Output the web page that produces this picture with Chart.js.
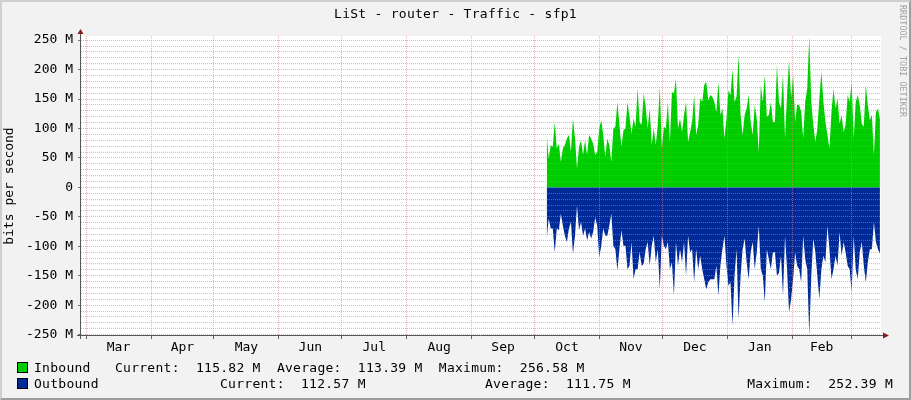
<!DOCTYPE html>
<html>
<head>
<meta charset="utf-8">
<script src="https://cdn.jsdelivr.net/npm/chart.js@4.4.1/dist/chart.umd.min.js"></script>
<style>
  html, body { margin: 0; padding: 0; background: #F2F2F2; }
  #wrap { position: relative; width: 911px; height: 400px; background: #F2F2F2; overflow: hidden;
          font-family: "DejaVu Sans Mono", monospace; font-size: 13px; color: #000; }
  #chart { position: absolute; left: 0; top: 0; }
  #frame { position: absolute; left: 0; top: 0; width: 911px; height: 400px; box-sizing: border-box;
           border-top: 2px solid #CFCFCF; border-left: 2px solid #CFCFCF;
           border-bottom: 2px solid #9E9E9E; border-right: 2px solid #9E9E9E; pointer-events: none; }
  .txt { position: absolute; white-space: pre; letter-spacing: 0.27px; line-height: 16px; }
  #title { left: 0; width: 911px; top: 6px; text-align: center; }
  #mark { position: absolute; left: 898px; top: 5px; writing-mode: vertical-rl; font-size: 8.3px;
          color: #A0A0A0; white-space: pre; letter-spacing: 0.1px; }
  .box { position: absolute; width: 9px; height: 9px; border: 1px solid #000; }
</style>
</head>
<body>
<div id="wrap">
  <canvas id="chart" width="911" height="400"></canvas>
  <div id="title" class="txt">LiSt - router - Traffic - sfp1</div>
  <div id="mark">RRDTOOL / TOBI OETIKER</div>

  <div class="box" style="left:17px; top:362px; background:#00CC00;"></div>
  <div class="txt" style="left:34px; top:360px;">Inbound   Current:  115.82 M  Average:  113.39 M  Maximum:  256.58 M</div>

  <div class="box" style="left:17px; top:378px; background:#002A97;"></div>
  <div class="txt" style="left:34px; top:376px;">Outbound</div>
  <div class="txt" style="left:220px; top:376px;">Current:  112.57 M</div>
  <div class="txt" style="left:485px; top:376px;">Average:  111.75 M</div>
  <div class="txt" style="right:18px; top:376px;">Maximum:  252.39 M</div>
  <div id="frame"></div>
</div>
<script>
// months on the time axis, day offsets from 1 March
const monthLabels = ['Mar', 'Apr', 'May', 'Jun', 'Jul', 'Aug', 'Sep', 'Oct', 'Nov', 'Dec', 'Jan', 'Feb'];
const monthStartDays = [0, 31, 61, 92, 122, 153, 184, 214, 245, 275, 306, 337, 365];

// visible time window (days from 1 March)
const timeMin = -2.4;
const timeMax = 379.3;

// samples run from early October to mid March
const sampleFirstDay = 219.8;
const sampleLastDay = 378.8;

// y axis (M bits/s)
const yMin = -252.4;
const yMax = 257;
const yTickValues = [-250, -200, -150, -100, -50, 0, 50, 100, 150, 200, 250];
const yTickLabels = ['-250 M', '-200 M', '-150 M', '-100 M', '-50 M', '0', '50 M', '100 M', '150 M', '200 M', '250 M'];

// Inbound, M bits/s
const inboundValues = [
  89, 49, 72, 69, 111, 66, 74, 43, 66, 72, 83, 89, 60, 117, 83, 32, 69, 80, 55, 80,
  55, 89, 83, 74, 55, 60, 100, 114, 89, 52, 83, 72, 43, 100, 103, 145, 106, 69, 97, 100,
  145,
  120, 91, 117, 103, 168, 111, 106, 160, 137, 100, 134, 72, 100, 72, 106, 171, 66, 103, 100, 145,
  77, 162, 160, 185, 100, 117, 94, 123, 145, 77, 94, 111, 157, 89, 106, 151, 145, 174, 179, 148,
  157, 154,
  145, 128, 179, 123, 134, 83, 117, 165, 157, 200, 145, 154, 225, 123, 89, 123, 134, 157, 111, 89,
  140, 117, 60, 174, 145, 191, 120, 123, 145, 111, 111, 208, 145, 134, 191, 83, 157, 216, 151, 191,
  111, 140,
  140, 128, 83, 145, 168, 256.58, 145, 106, 77, 100, 151, 197, 145, 111, 89, 66, 128, 168, 134, 151,
  108, 123, 94, 106, 157, 145, 179, 83, 145, 157, 140, 108, 103, 174, 140, 114, 123, 55, 128, 134,
  115.82
];

// Outbound, M bits/s (drawn below zero)
const outboundValues = [
  87, 53, 70, 70, 110, 70, 73, 45, 65, 82, 93, 70, 59, 113, 82, 31, 73, 59, 82, 70,
  90, 76, 87, 76, 51, 65, 119, 99, 70, 82, 82, 65, 45, 99, 105, 141, 105, 73, 99, 99,
  139,
  133, 93, 156, 139, 139, 110, 133, 130, 105, 93, 133, 99, 82, 127, 105, 173, 82, 99, 105, 93,
  139, 127, 184, 93, 133, 105, 127, 93, 150, 82, 110, 105, 161, 105, 139, 116, 139, 156, 173, 161,
  156, 156,
  156, 133, 184, 133, 105, 82, 133, 167, 161, 235, 150, 105, 224, 150, 105, 87, 127, 156, 110, 93,
  139, 110, 65, 139, 150, 195, 105, 122, 139, 110, 110, 150, 145, 116, 184, 82, 139, 212, 190, 156,
  110, 133,
  139, 161, 82, 122, 139, 252.39, 150, 87, 110, 150, 190, 139, 116, 127, 65, 105, 156, 139, 116, 133,
  76, 116, 93, 110, 133, 139, 178, 82, 139, 156, 110, 93, 133, 161, 127, 105, 105, 59, 93, 105,
  112.57
];

function toPoints(values, sign) {
  const step = (sampleLastDay - sampleFirstDay) / (values.length - 1);
  const pts = values.map((v, i) => ({ x: sampleFirstDay + i * step, y: sign * v }));
  return pts;
}

const monthMids = monthLabels.map((m, i) => (monthStartDays[i] + monthStartDays[i + 1]) / 2);
const minorTicks = [];
for (let v = -250; v <= 250; v += 10) {
  if (v % 50 !== 0) minorTicks.push(v);
}

const monoFont = { family: '"DejaVu Sans Mono", monospace', size: 13 };
const majorGrid = 'rgba(235, 120, 120, 0.6)';
const minorGrid = 'rgba(150, 150, 150, 0.55)';

const canvasBack = {
  id: 'canvasBack',
  beforeDraw(chart) {
    const { ctx, chartArea: a } = chart;
    ctx.save();
    ctx.fillStyle = '#FFFFFF';
    ctx.fillRect(a.left, a.top, a.right - a.left, a.bottom - a.top);
    ctx.restore();
  }
};

const axisArrows = {
  id: 'axisArrows',
  afterDraw(chart) {
    const { ctx, chartArea: a } = chart;
    ctx.save();
    ctx.strokeStyle = '#555555';
    ctx.lineWidth = 1;
    ctx.beginPath();
    ctx.moveTo(a.left - 0.5, a.bottom + 3);
    ctx.lineTo(a.left - 0.5, a.top - 4);
    ctx.moveTo(a.left - 4, a.bottom - 0.5);
    ctx.lineTo(a.right + 3, a.bottom - 0.5);
    ctx.stroke();
    ctx.fillStyle = '#801F1F';
    ctx.beginPath();
    ctx.moveTo(a.left - 0.5, a.top - 7);
    ctx.lineTo(a.left - 3.5, a.top - 2);
    ctx.lineTo(a.left + 2.5, a.top - 2);
    ctx.closePath();
    ctx.fill();
    ctx.beginPath();
    ctx.moveTo(a.right + 8, a.bottom - 0.5);
    ctx.lineTo(a.right + 2, a.bottom - 3.5);
    ctx.lineTo(a.right + 2, a.bottom + 2.5);
    ctx.closePath();
    ctx.fill();
    ctx.restore();
  }
};

new Chart(document.getElementById('chart'), {
  type: 'line',
  data: {
    datasets: [
      {
        label: 'Inbound',
        data: toPoints(inboundValues, 1),
        borderWidth: 0,
        borderColor: '#00CC00',
        backgroundColor: '#00CC00',
        fill: 'origin',
        tension: 0,
        pointRadius: 0
      },
      {
        label: 'Outbound',
        data: toPoints(outboundValues, -1),
        borderWidth: 0,
        borderColor: '#002A97',
        backgroundColor: '#002A97',
        fill: 'origin',
        tension: 0,
        pointRadius: 0
      }
    ]
  },
  options: {
    responsive: false,
    animation: false,
    events: [],
    layout: { padding: { left: 0, right: 30, top: 36, bottom: 44 } },
    plugins: { legend: { display: false }, tooltip: { enabled: false } },
    scales: {
      x: {
        type: 'linear',
        min: timeMin,
        max: timeMax,
        position: 'bottom',
        afterBuildTicks: (s) => { s.ticks = monthStartDays.map(v => ({ value: v })); },
        afterFit: (s) => { s.height = 0; },
        ticks: { display: false },
        border: { display: false, dash: [1, 1] },
        grid: { color: majorGrid, z: 1, drawTicks: true, tickLength: 3,
                tickColor: '#666666', tickBorderDash: [] }
      },
      xm: {
        type: 'linear',
        min: timeMin,
        max: timeMax,
        position: 'bottom',
        afterBuildTicks: (s) => { s.ticks = monthMids.map(v => ({ value: v })); },
        afterFit: (s) => { s.height = 20; },
        border: { display: false },
        grid: { display: false, drawTicks: false },
        ticks: {
          autoSkip: false,
          maxRotation: 0,
          padding: 4,
          color: '#000',
          font: monoFont,
          callback: (v, i) => monthLabels[i]
        }
      },
      y: {
        type: 'linear',
        min: yMin,
        max: yMax,
        position: 'left',
        afterBuildTicks: (s) => { s.ticks = yTickValues.map(v => ({ value: v })); },
        afterFit: (s) => { s.width = 81; },
        border: { display: false, dash: [1, 1] },
        grid: { color: majorGrid, z: 1, drawTicks: true, tickLength: 3,
                tickColor: '#777777', tickBorderDash: [] },
        title: { display: true, text: 'bits per second', color: '#000', font: monoFont, padding: { top: 2, bottom: 0 } },
        ticks: {
          padding: 5,
          color: '#000',
          font: monoFont,
          callback: (v, i) => yTickLabels[i]
        }
      },
      yminor: {
        type: 'linear',
        min: yMin,
        max: yMax,
        position: 'left',
        afterBuildTicks: (s) => { s.ticks = minorTicks.map(v => ({ value: v })); },
        afterFit: (s) => { s.width = 0; },
        border: { display: false, dash: [1, 1] },
        ticks: { display: false },
        grid: { color: minorGrid, z: 1, drawTicks: true, tickLength: 2,
                tickColor: '#999999', tickBorderDash: [] }
      }
    }
  },
  plugins: [canvasBack, axisArrows]
});
</script>
</body>
</html>
